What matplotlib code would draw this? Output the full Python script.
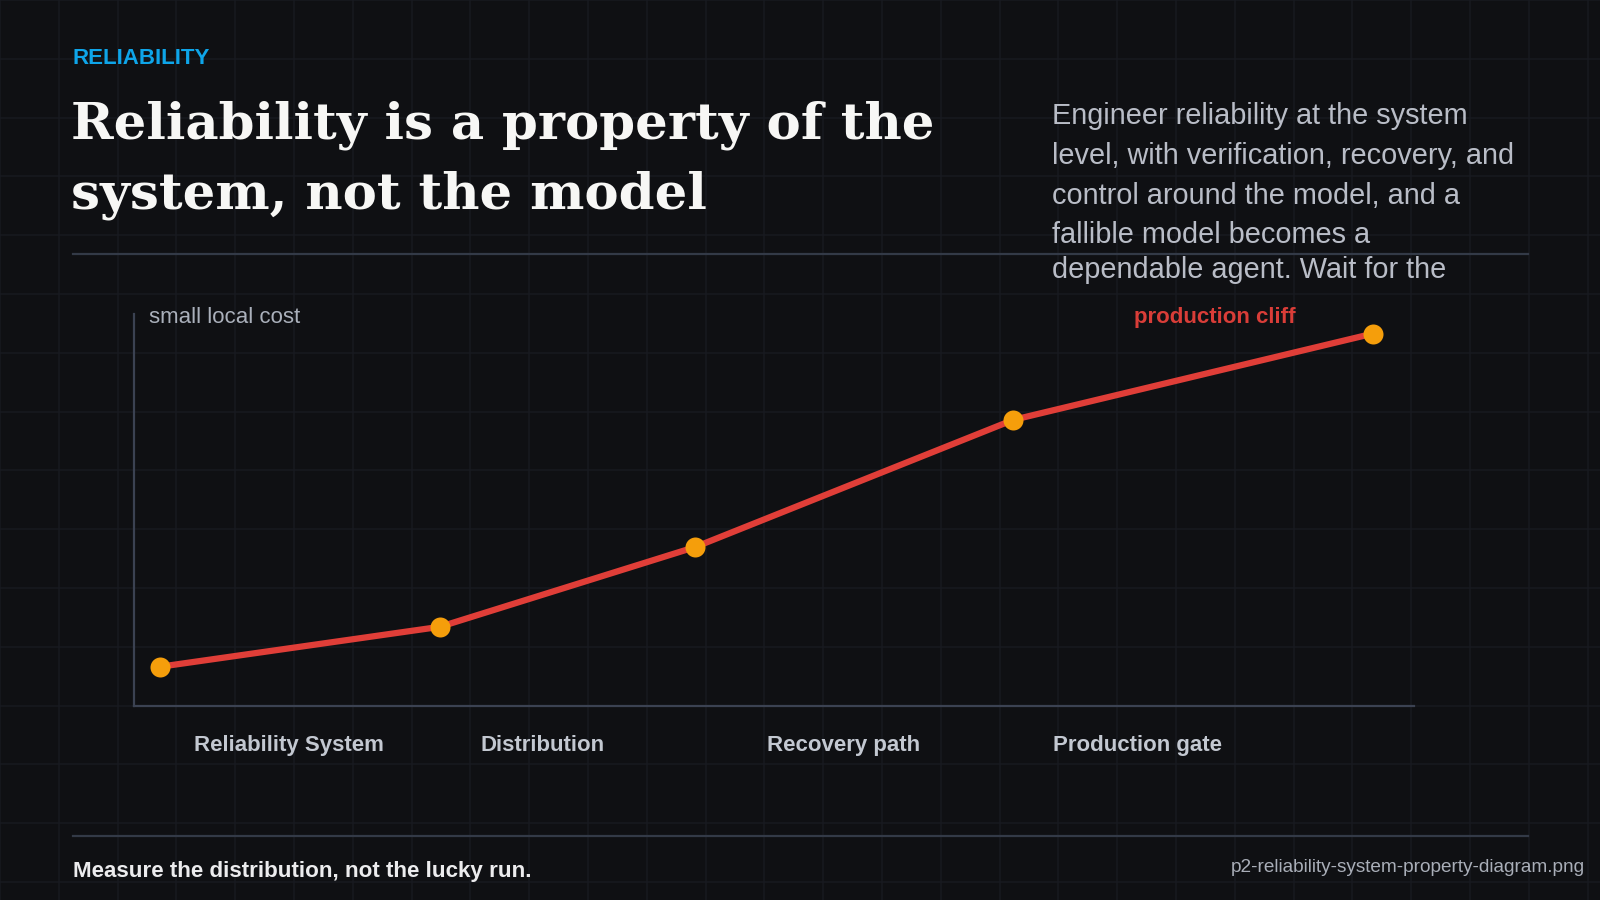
import matplotlib.pyplot as plt
import numpy as np

# -------------------------------
# Data
# -------------------------------
kicker = "RELIABILITY"
title_lines = ["Reliability is a property of the", "system, not the model"]
lede_lines = [
    "Engineer reliability at the system",
    "level, with verification, recovery, and",
    "control around the model, and a",
    "fallible model becomes a",
    "dependable agent. Wait for the",
]
stages = ["Reliability System", "Distribution", "Recovery path", "Production gate"]
point_x = [2, 23.9, 43.8, 68.7, 96.8]
point_y = [10, 20.2, 40.5, 73, 95]
y_note = "small local cost"
peak_note = "production cliff"
footer_left = "Measure the distribution, not the lucky run."
footer_right = "p2-reliability-system-property-diagram.png"

# -------------------------------
# Style
# -------------------------------
BG = "#0f1013"
GRID = "#181a20"
RULE = "#333a47"
AXIS = "#3b4252"
RED = "#e03e38"
AMBER = "#f59e0b"
BLUE = "#0ea5e9"
SANS = "Liberation Sans"

W, H = 1600, 900
fig = plt.figure(figsize=(16, 9), dpi=100, facecolor=BG)

# full-figure pixel canvas for the background grid and page text
bg = fig.add_axes([0, 0, 1, 1])
bg.set_xlim(0, W)
bg.set_ylim(H, 0)
bg.axis("off")
bg.set_facecolor(BG)
step = 58.8
for gx in np.arange(0, W + 1, step):
    bg.axvline(gx, color=GRID, lw=1.1, zorder=0)
for gy in np.arange(0, H + 1, step):
    bg.axhline(gy, color=GRID, lw=1.1, zorder=0)

bg.text(73, 59, kicker, color=BLUE, fontsize=16, fontweight="bold",
        family=SANS, va="center", ha="left")
for i, line in enumerate(title_lines):
    bg.text(71, 139 + 70 * i, line, color="#f7f7f5", fontsize=37,
            fontweight="bold", family="DejaVu Serif", va="baseline", ha="left")

bg.plot([73, 1528], [254, 254], color=RULE, lw=1.6, zorder=1)
bg.plot([73, 1528], [836, 836], color=RULE, lw=1.6, zorder=1)

lede_y = [116, 156, 196, 235, 270]
for line, ly in zip(lede_lines, lede_y):
    bg.text(1052, ly, line, color="#b9bdc7", fontsize=20.8, family=SANS,
            va="center", ha="left", zorder=3)

bg.text(73, 872, footer_left, color="#ececee", fontsize=16.1, fontweight="bold",
        family=SANS, va="center", ha="left")
bg.text(1585, 868, footer_right, color="#a9aeb8", fontsize=13.7, family=SANS,
        va="center", ha="right")

# -------------------------------
# Chart
# -------------------------------
ax = fig.add_axes([134 / W, 1 - 706 / H, 1280 / W, 392 / H])
ax.patch.set_alpha(0)
ax.set_xlim(0, 100)
ax.set_ylim(0, 100)
for side in ["top", "right"]:
    ax.spines[side].set_visible(False)
for side in ["left", "bottom"]:
    ax.spines[side].set_color(AXIS)
    ax.spines[side].set_linewidth(1.6)
ax.set_xticks([])
ax.set_yticks([])

ax.plot(point_x, point_y, color=RED, lw=4.5, solid_capstyle="round", zorder=2)
ax.plot(point_x, point_y, "o", color=AMBER, ms=14.4, mec="none", zorder=3)

ax.text(1.2, 99.2, y_note, color="#aab0bb", fontsize=16, family=SANS,
        va="center", ha="left")
ax.text(point_x[-1] - 18.7, 99.2, peak_note, color="#d93d38", fontsize=16,
        fontweight="bold", family=SANS, va="center", ha="left")

for i, name in enumerate(stages):
    ax.text(4.7 + 22.37 * i, -10.2, name, color="#c3c8d1", fontsize=16,
            fontweight="bold", family=SANS, va="center", ha="left",
            clip_on=False)

fig.savefig("out.png", dpi=100, facecolor=BG)
